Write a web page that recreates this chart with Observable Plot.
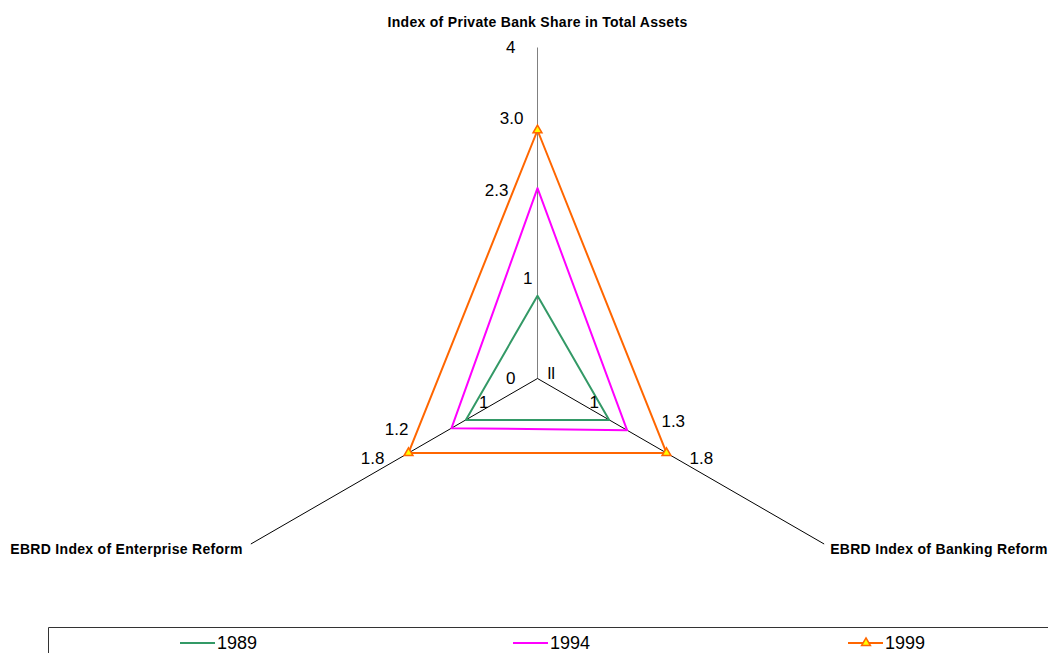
<!DOCTYPE html>
<html>
<head>
<meta charset="utf-8">
<script src="https://cdn.jsdelivr.net/npm/d3@7"></script>
<script src="https://cdn.jsdelivr.net/npm/@observablehq/plot@0.6"></script>
<style>
  html, body { margin: 0; padding: 0; background: #fff; }
  #wrap { position: relative; width: 1048px; height: 653px; overflow: hidden; font-family: "Liberation Sans", Arial, sans-serif; }
  #legend { position: absolute; left: 48px; top: 627px; }
</style>
</head>
<body>
<div id="wrap"><div id="chart"></div><div id="legend"></div></div>
<script>
// ---- data ----
const axes = ["Index of Private Bank Share in Total Assets", "EBRD Index of Banking Reform", "EBRD Index of Enterprise Reform"];
const axisMax = 4;
const axisMinLabel = "0";
const axisMaxLabel = "4";
const seriesNames = ["1989", "1994", "1999"];
const values1989 = [1, 1, 1];
const values1994 = [2.3, 1.25, 1.2];
const values1999 = [3.0, 1.8, 1.8];
const seriesValues = [values1989, values1994, values1999];
const seriesColors = ["#339966", "#ff00ff", "#ff6600"];
const labelFormats = [d3.format(""), d3.format(".1f"), d3.format(".1f")];

// ---- geometry helpers (polar -> cartesian in data units) ----
const angles = axes.map((_, i) => (i * 2 * Math.PI) / axes.length);
const px = (r, i) => r * Math.sin(angles[i]);
const py = (r, i) => r * Math.cos(angles[i]);

const scale = 82.75; // px per unit
const W = 1048, H = 625, cx = 537, cy = 378;

const axisLines = axes.map((name, i) => ({name, i, x1: 0, y1: 0, x2: px(axisMax, i), y2: py(axisMax, i)}));

const polys = seriesNames.map((s, k) => {
  const pts = seriesValues[k].map((v, i) => ({series: s, axis: i, value: v, x: px(v, i), y: py(v, i)}));
  return pts.concat([pts[0]]);
});

// label nudges (px) per series / axis
const nudge = [
  [{dx: -5, dy: -17, a: "end"}, {dx: -15, dy: -17, a: "middle"}, {dx: 18, dy: -17, a: "middle"}],
  [{dx: -29, dy: 2, a: "end"}, {dx: 58, dy: -9, a: "end"}, {dx: -43, dy: 1, a: "end"}],
  [{dx: -14, dy: -12, a: "end"}, {dx: 23, dy: 6, a: "start"}, {dx: -24, dy: 6, a: "end"}]
];
const titleNudge = [{dx: 0, dy: -25, a: "middle"}, {dx: 6, dy: 6, a: "start"}, {dx: -8, dy: 6, a: "end"}];

const font = "Liberation Sans, Arial, sans-serif";
const marks = [];

// axes
axisLines.forEach((d, i) => {
  marks.push(Plot.link([d], {x1: "x1", y1: "y1", x2: "x2", y2: "y2", stroke: i === 0 ? "#808080" : "#000", strokeWidth: 1}));
});
// polygons
polys.forEach((pts, k) => {
  marks.push(Plot.line(pts, {x: "x", y: "y", stroke: seriesColors[k], strokeWidth: 2, curve: "linear"}));
});
// 1999 markers
marks.push(Plot.dot(polys[2].slice(0, 3), {x: "x", y: "y", symbol: "triangle", r: 3.3, fill: "#ffff00", stroke: "#ff6600", strokeWidth: 1.5}));

// value labels
polys.forEach((pts, k) => {
  pts.slice(0, 3).forEach((p, i) => {
    const n = nudge[k][i];
    marks.push(Plot.text([p], {x: "x", y: "y", text: d => labelFormats[k](d.value), dx: n.dx, dy: n.dy, textAnchor: n.a, fontSize: 17, fill: "#000"}));
  });
});

// axis scale labels
marks.push(Plot.text([{x: 0, y: axisMax}], {x: "x", y: "y", text: () => axisMaxLabel, dx: -22, textAnchor: "end", fontSize: 17, fill: "#000"}));
marks.push(Plot.text([{x: 0, y: 0}], {x: "x", y: "y", text: () => axisMinLabel, dx: -22, textAnchor: "end", fontSize: 17, fill: "#000"}));
marks.push(Plot.text([{x: 0, y: 0}], {x: "x", y: "y", text: () => "ll", dx: 10, dy: -5, textAnchor: "start", fontSize: 17, fill: "#000"}));

// axis titles
axisLines.forEach((d, i) => {
  const n = titleNudge[i];
  marks.push(Plot.text([d], {x: "x2", y: "y2", text: "name", dx: n.dx, dy: n.dy, textAnchor: n.a, fontSize: 14, fontWeight: "bold", fill: "#000", letterSpacing: "0.3px"}));
});

const chart = Plot.plot({
  width: W, height: H,
  marginLeft: 0, marginRight: 0, marginTop: 0, marginBottom: 0,
  x: {domain: [-cx / scale, (W - cx) / scale], axis: null},
  y: {domain: [-(H - cy) / scale, cy / scale], axis: null},
  style: {fontFamily: font, background: "#fff", overflow: "visible"},
  marks
});
// apply letter spacing to bold titles
d3.select(chart).selectAll("text").filter(function() { return this.getAttribute("font-weight") === "bold" || (this.parentNode && this.parentNode.getAttribute("font-weight") === "bold"); }).style("letter-spacing", "0.3px");
document.getElementById("chart").appendChild(chart);

// legend
const leg = d3.select("#legend").append("svg").attr("width", 1010).attr("height", 30).style("display", "block").style("font-family", font);
leg.append("path").attr("d", "M0.5,30 V0.5 H1010").attr("fill", "none").attr("stroke", "#333").attr("stroke-width", 1);
const legX = [132, 465, 800];
seriesNames.forEach((s, k) => {
  const g = leg.append("g").attr("transform", `translate(${legX[k]},16)`);
  g.append("line").attr("x1", 0).attr("x2", 35).attr("stroke", seriesColors[k]).attr("stroke-width", 2);
  if (k === 2) g.append("path").attr("d", d3.symbol(d3.symbolTriangle, 34)()).attr("transform", "translate(18,0)").attr("fill", "#ffff00").attr("stroke", "#ff6600").attr("stroke-width", 1.5);
  g.append("text").attr("x", 37).attr("dy", "0.36em").attr("font-size", 18).text(s);
});
</script>
</body>
</html>
